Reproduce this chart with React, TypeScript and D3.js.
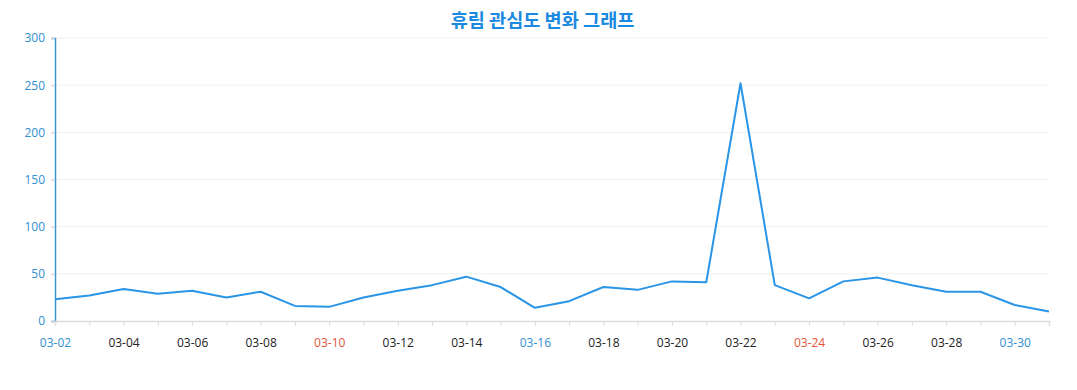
import React, { useEffect, useRef } from 'react';
import * as d3 from 'd3';

// 날짜별 관심도
const dates = [
  '03-02', '03-03', '03-04', '03-05', '03-06', '03-07', '03-08', '03-09', '03-10', '03-11',
  '03-12', '03-13', '03-14', '03-15', '03-16', '03-17', '03-18', '03-19', '03-20', '03-21',
  '03-22', '03-23', '03-24', '03-25', '03-26', '03-27', '03-28', '03-29', '03-30', '03-31',
];
const values = [
  23, 27, 34, 29, 32, 25, 31, 16, 15, 25,
  32, 38, 47, 36, 14, 21, 36, 33, 42, 41,
  252, 38, 24, 42, 46, 38, 31, 31, 17, 10,
];
const yTicks = [0, 50, 100, 150, 200, 250, 300];
const blueDates = ['03-02', '03-16', '03-30'];
const redDates = ['03-10', '03-24'];
const title = '휴림 관심도 변화 그래프';

const App: React.FC = () => {
  const svgRef = useRef<SVGSVGElement | null>(null);

  useEffect(() => {
    if (!svgRef.current) return;
    const width = 1077;
    const height = 390;
    const margin = { top: 38, right: 28, bottom: 69, left: 55 };

    const svg = d3.select(svgRef.current);
    svg.selectAll('*').remove();

    const x = d3
      .scalePoint<string>()
      .domain(dates)
      .range([margin.left, width - margin.right]);
    const y = d3
      .scaleLinear()
      .domain([0, 300])
      .range([height - margin.bottom, margin.top]);

    const font = '"Open Sans", "Noto Sans", sans-serif';

    // 제목
    svg.append('text')
      .attr('x', width / 2 + 4)
      .attr('y', 27)
      .attr('text-anchor', 'middle')
      .attr('font-family', '"Noto Sans CJK KR", sans-serif')
      .attr('font-size', 18.6)
      .attr('font-weight', 'bold')
      .attr('fill', '#1a8ae0')
      .text(title);

    // 가로 격자선
    svg.append('g')
      .selectAll('line')
      .data(yTicks.filter((t) => t > 0))
      .join('line')
      .attr('x1', margin.left)
      .attr('x2', width - margin.right)
      .attr('y1', (d) => y(d))
      .attr('y2', (d) => y(d))
      .attr('stroke', '#f0f0f0')
      .attr('stroke-width', 1);

    // y축
    const yAxis = svg.append('g')
      .attr('transform', `translate(${margin.left},0)`)
      .call(d3.axisLeft(y).tickValues(yTicks).tickSize(4).tickPadding(6));
    yAxis.select('.domain').attr('stroke', '#3b95d6').attr('stroke-width', 1.5);
    yAxis.selectAll('.tick line').attr('stroke', '#ccc');
    yAxis.selectAll('.tick text')
      .attr('fill', '#2f8fd0')
      .attr('font-family', font)
      .attr('font-size', 12);

    // x축
    const xAxis = svg.append('g')
      .attr('transform', `translate(0,${y(0)})`)
      .call(
        d3.axisBottom(x)
          .tickSizeOuter(0)
          .tickSize(5)
          .tickPadding(12)
          .tickFormat((d, i) => (i % 2 === 0 ? d : ''))
      );
    xAxis.select('.domain').attr('stroke', '#dcdcdc').attr('stroke-width', 1.5);
    xAxis.selectAll('.tick line').attr('stroke', '#dcdcdc');
    xAxis.selectAll<SVGTextElement, string>('.tick text')
      .attr('font-family', font)
      .attr('font-size', 12)
      .attr('fill', (d) =>
        blueDates.includes(d) ? '#2f8fd0' : redDates.includes(d) ? '#e0553a' : '#222'
      );

    // 선
    const line = d3
      .line<number>()
      .x((_, i) => x(dates[i])!)
      .y((d) => y(d));
    svg.append('path')
      .datum(values)
      .attr('fill', 'none')
      .attr('stroke', '#2a95e6')
      .attr('stroke-width', 2)
      .attr('stroke-linejoin', 'round')
      .attr('d', line);
  }, []);

  return <svg ref={svgRef} width={1077} height={390} style={{ display: 'block', margin: -8 }} />;
};

export default App;
